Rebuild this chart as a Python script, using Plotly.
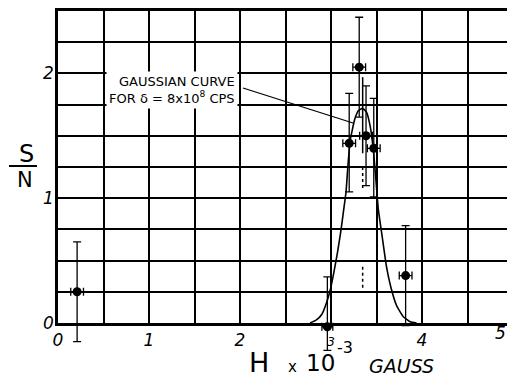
import plotly.graph_objects as go

# ---------------- data ----------------
pt_x = [0.21, 2.96, 3.20, 3.31, 3.385, 3.47, 3.82]
pt_y = [0.25, -0.03, 1.44, 2.05, 1.50, 1.40, 0.38]
err_y_plus = [0.40, 0.40, 0.40, 0.40, 0.40, 0.40, 0.40]
err_y_minus = [0.40, 0.19, 0.39, 0.40, 0.40, 0.39, 0.40]
err_x = [0.07, 0.06, 0.07, 0.07, 0.07, 0.07, 0.07]

curve_x = [2.77, 2.84, 2.90, 2.95, 2.99, 3.03, 3.07, 3.105, 3.14, 3.165, 3.185,
           3.21, 3.26, 3.30, 3.345, 3.39, 3.43, 3.465, 3.49, 3.52, 3.557, 3.61,
           3.66, 3.72, 3.795, 3.87, 3.94]
curve_y = [0.0, 0.025, 0.07, 0.16, 0.26, 0.40, 0.56, 0.72, 0.91, 1.05, 1.25,
           1.46, 1.63, 1.70, 1.72, 1.69, 1.58, 1.39, 1.18, 0.91, 0.72, 0.45,
           0.28, 0.14, 0.05, 0.01, 0.0]

center_h = 3.348
center_solid_y = [1.97, 1.36]
center_dash1_y = [1.25, 1.07]
center_dash2_y = [0.45, 0.27]

x_grid_vals = [0, 0.5, 1, 1.5, 2, 2.5, 3, 3.5, 4, 4.5]
x_grid_text = ["0", "", "1", "", "2", "", "<span style='font-size:12px'>3</span>", "", "4", ""]
y_grid_vals = [0, 0.25, 0.5, 0.75, 1, 1.25, 1.5, 1.75, 2, 2.25, 2.5]
y_grid_text = ["0", "", "", "", "1", "", "", "", "2", "", ""]

# ---------------- geometry ----------------
W, H = 507, 378
ML, MR, MT, MB = 58, 0, 11, 0
PW, PH = W - ML - MR, H - MT - MB
PX_PER_X = 91.0
PX_PER_Y = 124.8
X_MAX = PW / PX_PER_X
Y_TOP = 2.5
Y0_PIX = 323
GRID_BOTTOM = (H - MB - Y0_PIX) / PH
Y2_MIN = Y_TOP - PH / PX_PER_Y


def px(xp):
    return (xp - ML) / PW


def py(yp):
    return (H - MB - yp) / PH


FONT = "DejaVu Sans"

fig = go.Figure()

# gaussian curve (on the grid subplot)
fig.add_trace(go.Scatter(x=curve_x, y=curve_y, mode="lines",
                         line=dict(color="black", width=1.6, shape="spline", smoothing=0.4),
                         xaxis="x", yaxis="y", hoverinfo="skip", cliponaxis=False))
# centre line
fig.add_trace(go.Scatter(x=[center_h, center_h], y=center_solid_y, mode="lines",
                         line=dict(color="black", width=1.5), xaxis="x", yaxis="y"))
fig.add_trace(go.Scatter(x=[center_h, center_h], y=center_dash1_y, mode="lines",
                         line=dict(color="black", width=1.5, dash="3px,3px"), xaxis="x", yaxis="y"))
fig.add_trace(go.Scatter(x=[center_h, center_h], y=center_dash2_y, mode="lines",
                         line=dict(color="black", width=1.5, dash="3px,3px"), xaxis="x", yaxis="y"))

# measured points (on the extended data subplot so that parts below 0 show)
fig.add_trace(go.Scatter(
    x=pt_x, y=pt_y, mode="markers",
    marker=dict(color="black", size=9),
    error_y=dict(type="data", symmetric=False, array=err_y_plus, arrayminus=err_y_minus,
                 color="black", thickness=1.3, width=4),
    error_x=dict(type="data", array=err_x, color="black", thickness=1.3, width=4),
    xaxis="x2", yaxis="y2"))

tickfont = dict(family=FONT, size=17, color="black", style="italic")

fig.update_layout(
    width=W, height=H,
    margin=dict(l=ML, r=MR, t=MT, b=MB, autoexpand=False),
    paper_bgcolor="white", plot_bgcolor="rgba(0,0,0,0)",
    showlegend=False,
    xaxis=dict(visible=True, domain=[0, 1], range=[0, X_MAX], anchor="y",
               tickmode="array", tickvals=x_grid_vals, ticktext=x_grid_text,
               showgrid=True, gridcolor="black", gridwidth=1.8,
               showline=True, linecolor="black", linewidth=2.5, mirror=True,
               zeroline=False, ticks="", tickfont=tickfont, automargin=False),
    yaxis=dict(visible=True, domain=[GRID_BOTTOM, 1], range=[0, Y_TOP], anchor="x",
               tickmode="array", tickvals=y_grid_vals, ticktext=y_grid_text,
               showgrid=True, gridcolor="black", gridwidth=2.4,
               showline=True, linecolor="black", linewidth=2.5, mirror=False,
               zeroline=False, ticks="", tickfont=tickfont, automargin=False,
               ticklabelstandoff=-2),
    xaxis2=dict(domain=[0, 1], range=[0, X_MAX], anchor="y2", visible=False),
    yaxis2=dict(domain=[0, 1], range=[Y2_MIN, Y_TOP], anchor="x2", visible=False),
)


def label(xp, yp, text, font, **kw):
    d = dict(xref="paper", yref="paper", x=px(xp), y=py(yp), text=text, showarrow=False,
             xanchor="center", yanchor="middle", font=font)
    d.update(kw)
    return d


ann = [
    label(26, 154, "S", dict(family=FONT, size=24, color="black")),
    label(25, 180, "N", dict(family=FONT, size=21, color="black")),
    label(500, 333, "5", tickfont),
    label(259, 362, "H", dict(family=FONT, size=27, color="black")),
    label(292, 367, "x", dict(family=FONT, size=15, color="black")),
    label(320, 363, "10", dict(family=FONT, size=23, color="black")),
    label(345, 347, "-3", dict(family=FONT, size=16, color="black")),
    label(401, 366, "GAUSS", dict(family=FONT, size=19, color="black", style="italic")),
    label(172, 90, "GAUSSIAN CURVE<br>FOR δ = 8x10<sup>8</sup> CPS",
          dict(family=FONT, size=13, color="black"), align="right", bgcolor="white", borderpad=2),
]
fig.update_layout(annotations=ann)

# fraction bar and pointer line
fig.add_shape(type="line", xref="paper", yref="paper", x0=px(9), x1=px(37), y0=py(166), y1=py(166),
              line=dict(color="black", width=2))
fig.add_shape(type="line", xref="x2", yref="y2",
              x0=(243 - ML) / PX_PER_X, y0=(Y0_PIX - 88) / PX_PER_Y,
              x1=(353 - ML) / PX_PER_X, y1=(Y0_PIX - 123) / PX_PER_Y,
              line=dict(color="black", width=1.3))

fig.write_html("out.html")
